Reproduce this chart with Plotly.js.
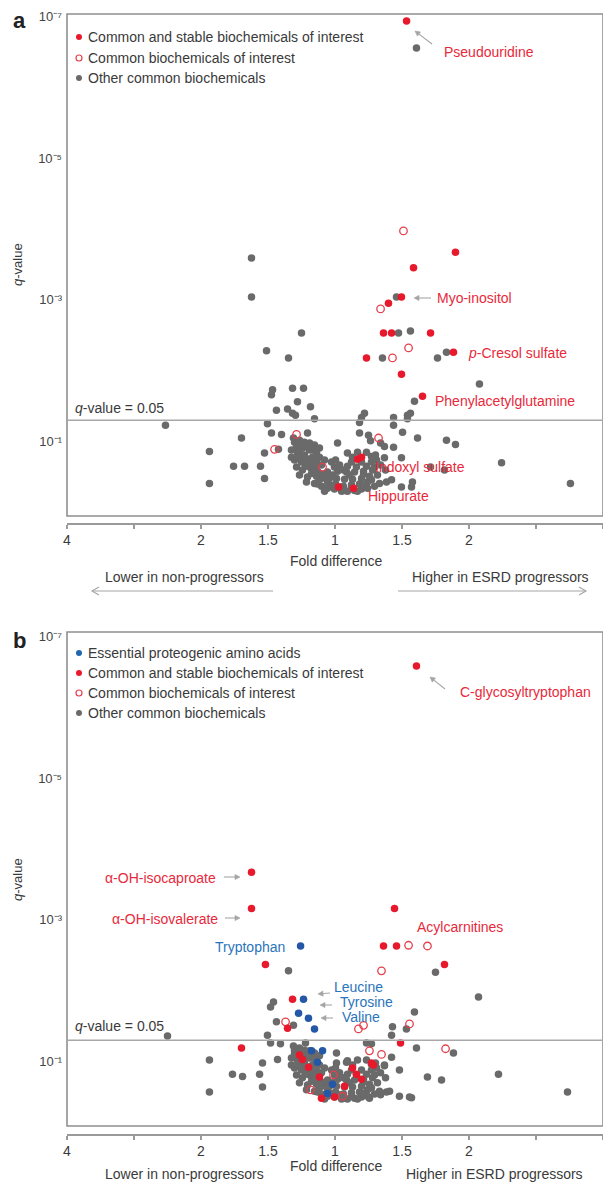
<!DOCTYPE html>
<html><head><meta charset="utf-8">
<script src="https://cdn.plot.ly/plotly-3.0.1.min.js"></script>
<style>html,body{margin:0;padding:0;background:#fff;}#chart{width:603px;height:1183px;}</style>
</head><body><div id="chart"></div>
<script>
// ---------- DATA: x = log2 fold difference, y = -log10(q-value) ----------
const xTickVals = [-2, -1, -0.5, 0, 0.5, 1, 2];
const xTickText = ['4', '2', '1.5', '1', '1.5', '2', '4'];
const xMinorTicks = [-1.5, 1.5];
const yTickVals = [1, 3, 5, 7];
const yTickText = ['10⁻¹', '10⁻³', '10⁻⁵', '10⁻⁷'];
const qThreshold = 0.05;

// Panel a
const aRedX = [0.534,0.899,0.586,0.496,0.399,0.362,0.422,0.713,0.235,0.884,0.496,0.653,0.168,0.198,0.026,0.138];
const aRedY = [6.93,3.67,3.45,3.04,2.95,2.53,2.53,2.53,2.18,2.26,1.95,1.64,0.75,0.78,0.36,0.34];
const aOpenX = [0.511,0.340,0.429,0.549,-0.287,-0.451,-0.093,0.325];
const aOpenY = [3.97,2.87,2.18,2.32,1.10,0.89,0.64,1.05];
const aGrayX = [0.608,-0.623,-0.623,0.459,-0.250,0.474,0.563,-0.511,-0.347,0.354,0.765,0.832,1.078,-0.466,-0.474,-0.317,-0.235,-0.280,-0.183,0.593,-0.437,-0.354,-0.317,-0.295,-0.153,0.198,0.220,0.437,0.437,0.541,0.563,0.541,0.183,-1.265,-0.937,-0.937,-0.698,-0.757,-0.675,-0.556,-0.526,-0.526,-0.422,-0.504,-0.474,-0.399,-0.205,0.019,0.183,0.250,0.265,0.340,0.369,0.504,0.437,0.616,0.832,0.899,1.243,1.757,0.713,0.817,0.496,0.571,0.578,0.384,0.422,0.496];
const aGrayY = [6.55,3.59,3.04,3.04,2.53,2.53,2.56,2.28,2.18,2.18,2.18,2.26,1.81,1.73,1.66,1.75,1.75,1.56,1.49,1.57,1.44,1.46,1.40,1.37,1.32,1.34,1.40,1.34,1.23,1.37,1.40,1.32,1.27,1.23,0.86,0.41,1.05,0.65,0.65,0.65,0.48,0.84,0.89,1.25,1.12,1.10,1.12,0.98,1.12,1.09,1.01,0.98,0.93,1.13,0.92,1.05,1.02,0.96,0.70,0.41,0.64,0.60,0.36,0.36,0.43,0.43,0.46,0.77];
const aClusterX = [-0.302,-0.265,-0.228,-0.190,-0.153,-0.116,-0.287,-0.243,-0.190,-0.138,-0.280,-0.228,-0.168,-0.116,-0.302,-0.250,-0.205,-0.138,-0.078,-0.287,-0.243,-0.183,-0.131,-0.056,-0.265,-0.205,-0.138,-0.071,-0.019,-0.213,-0.153,-0.101,-0.056,-0.004,0.049,0.093,0.146,0.198,0.243,0.295,-0.116,-0.056,0.004,0.063,0.123,0.183,0.243,0.011,0.071,0.131,0.198,0.257,0.019,0.086,0.146,0.213,0.280,0.034,0.093,0.160,0.235,0.295,0.093,0.131,0.235,0.272,0.310,0.340,-0.026,-0.004,-0.325,-0.325,-0.310,
  -0.265,-0.205,-0.168,-0.265,-0.220,-0.175,-0.272,-0.101,-0.153,-0.220,-0.101,-0.175,-0.041,-0.131,-0.078,-0.026,0.034,0.071,0.123,0.168,0.220,0.272,0.317,0.272,0.198,0.123,0.063,0.004,0.168,0.302,0.369,0.377,0.332,0.108,0.213];
const aClusterY = [0.99,1.02,0.99,0.98,0.95,0.91,0.92,0.91,0.88,0.85,0.84,0.81,0.78,0.78,0.74,0.71,0.70,0.70,0.74,0.64,0.60,0.63,0.58,0.57,0.53,0.50,0.51,0.48,0.53,0.43,0.41,0.37,0.34,0.33,0.30,0.30,0.31,0.33,0.34,0.37,0.46,0.43,0.40,0.37,0.39,0.40,0.43,0.48,0.47,0.47,0.48,0.51,0.58,0.57,0.57,0.58,0.60,0.67,0.65,0.64,0.65,0.64,0.84,0.78,0.85,0.79,0.74,0.67,0.71,0.64,0.88,0.78,1.05,
  0.95,0.92,0.88,0.85,0.77,0.72,0.78,0.67,0.64,0.65,0.54,0.55,0.48,0.40,0.30,0.38,0.36,0.31,0.34,0.30,0.38,0.46,0.53,0.71,0.71,0.71,0.60,0.74,0.85,0.81,0.77,0.60,0.41,0.53,0.54];

// Panel b
const bBlueX = [-0.257,-0.235,-0.272,-0.198,-0.153,-0.175,-0.093,-0.131,-0.019,-0.056];
const bBlueY = [2.63,1.88,1.68,1.61,1.46,1.15,1.15,0.99,0.68,0.55];
const bRedX = [0.608,-0.623,-0.623,0.444,0.362,0.459,-0.519,0.817,-0.317,-0.354,-0.698,0.489,-0.265,-0.243,-0.198,0.272,0.287,-0.116,0.131,0.160,0.198,0.071,-0.101,-0.004];
const bRedY = [6.58,3.67,3.16,3.16,2.63,2.63,2.37,2.37,1.88,1.47,1.19,1.26,1.09,1.03,0.92,0.98,0.95,0.78,0.91,0.82,0.75,0.65,0.48,0.50];
const bOpenX = [0.549,0.690,0.347,-0.369,0.175,0.213,0.556,0.257,0.347,0.825,-0.011,-0.183,0.056];
const bOpenY = [2.64,2.63,2.28,1.56,1.46,1.51,1.53,1.15,1.10,1.18,0.81,0.60,0.51];
const bGrayX = [-0.347,0.750,1.071,-0.459,-0.481,-0.437,-0.310,0.593,0.429,0.422,0.533,-1.250,-0.504,-0.481,-0.407,-0.220,0.011,0.235,0.272,0.608,-0.302,-0.541,-0.429,0.011,0.086,0.422,0.690,-0.765,-0.690,-0.563,-0.541,0.481,0.556,0.257,-0.937,-0.937,0.884,0.369,0.481,0.795,1.220,1.735,0.571,0.340,0.384,0.407];
const bGrayY = [2.28,2.26,1.91,1.84,1.77,1.56,1.51,1.70,1.49,1.37,1.46,1.36,1.37,1.26,1.25,1.26,1.12,1.26,1.25,1.19,1.12,0.98,1.03,0.98,0.99,1.06,0.78,0.82,0.79,0.82,0.64,0.51,0.50,0.48,1.02,0.57,1.12,0.95,0.88,0.74,0.82,0.57,0.49,0.53,0.57,0.58];
const bClusterX = [-0.302,-0.265,-0.228,-0.190,-0.153,-0.116,-0.287,-0.243,-0.190,-0.138,-0.280,-0.228,-0.168,-0.116,-0.302,-0.250,-0.205,-0.138,-0.078,-0.287,-0.243,-0.183,-0.131,-0.056,-0.265,-0.205,-0.138,-0.071,-0.019,-0.213,-0.153,-0.101,-0.056,-0.004,0.049,0.093,0.146,0.198,0.243,0.295,-0.116,-0.056,0.004,0.063,0.123,0.183,0.243,0.011,0.071,0.131,0.198,0.257,0.019,0.086,0.146,0.213,0.280,0.034,0.093,0.160,0.235,0.295,0.093,0.131,0.235,0.272,0.310,0.340,-0.026,-0.004,-0.325,-0.325,-0.310,
  -0.265,-0.205,-0.168,-0.265,-0.220,-0.175,-0.272,-0.101,-0.153,-0.220,-0.101,-0.175,-0.041,-0.131,-0.078,-0.026,0.034,0.071,0.123,0.168,0.220,0.272,0.317,0.272,0.198,0.123,0.063,0.004,0.168,0.302,0.369,0.377,0.332,0.108,0.213];
const bClusterY = [1.16,1.19,1.16,1.15,1.12,1.08,1.09,1.08,1.05,1.02,1.01,0.98,0.95,0.95,0.91,0.88,0.87,0.87,0.91,0.81,0.77,0.80,0.75,0.74,0.70,0.67,0.68,0.65,0.70,0.60,0.58,0.54,0.51,0.50,0.47,0.47,0.48,0.50,0.51,0.54,0.63,0.60,0.57,0.54,0.56,0.57,0.60,0.65,0.64,0.64,0.65,0.68,0.75,0.74,0.74,0.75,0.77,0.84,0.82,0.81,0.82,0.81,1.01,0.95,1.02,0.96,0.91,0.84,0.88,0.81,1.05,0.95,1.22,
  1.12,1.09,1.05,1.02,0.94,0.89,0.95,0.84,0.81,0.82,0.71,0.72,0.65,0.57,0.47,0.55,0.53,0.48,0.51,0.47,0.55,0.63,0.70,0.88,0.88,0.88,0.77,0.91,1.02,0.98,0.94,0.77,0.58,0.70,0.71];

const legendA = ['Common and stable biochemicals of interest', 'Common biochemicals of interest', 'Other common biochemicals'];
const legendB = ['Essential proteogenic amino acids', 'Common and stable biochemicals of interest', 'Common biochemicals of interest', 'Other common biochemicals'];

// ---------- STYLE ----------
const W = 603, H = 1183, ML = 67;
const FONT = 'Liberation Sans, Arial, Helvetica, sans-serif';
const RED = '#e8192c', RED_T = '#e8293b', BLUE = '#2457a8', BLUE_T = '#2b74bb', GRAY = '#6a6a6a', DARK = '#3a3a3a', LINE = '#8f8f8f', ARROW = '#a5a5a5';
const PX = p => (p - ML) / (W - ML);
const PY = p => 1 - p / H;

const mGray = {size: 7.5, color: GRAY};
const mRed = {size: 7.5, color: RED};
const mOpen = {size: 7.5, symbol: 'circle-open', color: '#e5404c', line: {width: 1.3}};
const mBlue = {size: 7.5, color: BLUE};

function pts(x, y, xa, ya, marker) {
  return {type: 'scatter', mode: 'markers', x: x, y: y, xaxis: xa, yaxis: ya, marker: marker, hoverinfo: 'skip', showlegend: false, cliponaxis: false};
}

const data = [
  pts(aGrayX.concat(aClusterX), aGrayY.concat(aClusterY), 'x', 'y', mGray),
  pts(aOpenX, aOpenY, 'x', 'y', mOpen),
  pts(aRedX, aRedY, 'x', 'y', mRed),
  pts(bGrayX.concat(bClusterX), bGrayY.concat(bClusterY), 'x2', 'y2', mGray),
  pts(bOpenX, bOpenY, 'x2', 'y2', mOpen),
  pts(bRedX, bRedY, 'x2', 'y2', mRed),
  pts(bBlueX, bBlueY, 'x2', 'y2', mBlue)
];

function xAxis(pos) {
  return {domain: [0, 1], range: [-2, 2], anchor: 'free', position: pos, tickmode: 'array', tickvals: xTickVals, ticktext: xTickText,
    ticks: 'outside', ticklen: 4, tickwidth: 1.2, tickcolor: '#9a9a9a', showline: true, linecolor: '#9a9a9a', linewidth: 1.5,
    minor: {tickmode: 'array', tickvals: xMinorTicks, ticks: 'outside', ticklen: 4, tickwidth: 1.2, tickcolor: '#9a9a9a', showgrid: false},
    showgrid: false, zeroline: false, tickfont: {family: FONT, size: 14, color: DARK}, fixedrange: true};
}
function yAxis(dom, rng, anchor) {
  return {domain: dom, range: rng, anchor: anchor, tickmode: 'array', tickvals: yTickVals, ticktext: yTickText, ticks: '', ticklabelstandoff: 4,
    showline: false, showgrid: false, zeroline: false, tickfont: {family: FONT, size: 13, color: '#444'}, fixedrange: true};
}

function txt(x, y, text, color, opt) {
  return Object.assign({xref: 'paper', yref: 'paper', x: PX(x), y: PY(y), text: text, showarrow: false, xanchor: 'left', yanchor: 'middle',
    font: {family: FONT, size: 14, color: color}}, opt || {});
}
// arrow drawn as a path shape: shaft from tail to head plus a head (filled triangle or open chevron)
function arrow(hx, hy, tx, ty, open) {
  const dx = tx - hx, dy = ty - hy, len = Math.hypot(dx, dy);
  const ux = dx / len, uy = dy / len, nx = -uy, ny = ux;
  const s = open ? 7 : 5, w = open ? 4 : 2.6;
  const p = (x, y) => PX(x).toFixed(5) + ',' + PY(y).toFixed(5);
  const b1 = [hx + ux * s + nx * w, hy + uy * s + ny * w], b2 = [hx + ux * s - nx * w, hy + uy * s - ny * w];
  const shaft = {type: 'path', xref: 'paper', yref: 'paper', path: 'M' + p(tx, ty) + 'L' + p(hx + ux * (open ? 0 : s * 0.6), hy + uy * (open ? 0 : s * 0.6)),
    line: {color: ARROW, width: 1.1}};
  const head = open
    ? {type: 'path', xref: 'paper', yref: 'paper', path: 'M' + p(b1[0], b1[1]) + 'L' + p(hx, hy) + 'L' + p(b2[0], b2[1]), line: {color: ARROW, width: 1.1}}
    : {type: 'path', xref: 'paper', yref: 'paper', path: 'M' + p(b1[0], b1[1]) + 'L' + p(hx, hy) + 'L' + p(b2[0], b2[1]) + 'Z', fillcolor: ARROW, line: {color: ARROW, width: 0.6}};
  return [shaft, head];
}
function dot(x, y, kind) {
  const s = {type: 'circle', xref: 'paper', yref: 'paper', xsizemode: 'pixel', ysizemode: 'pixel', xanchor: PX(x), yanchor: PY(y),
    x0: -3, x1: 3, y0: -3, y1: 3};
  if (kind === 'open') { s.line = {color: '#e5404c', width: 1.2}; s.fillcolor = 'rgba(0,0,0,0)'; }
  else { s.line = {width: 0}; s.fillcolor = kind; }
  return s;
}

const qLine = -Math.log10(qThreshold);

const shapes = [
  {type: 'rect', xref: 'x domain', yref: 'y domain', x0: 0, x1: 1, y0: 0, y1: 1, line: {color: LINE, width: 1.6}},
  {type: 'rect', xref: 'x2 domain', yref: 'y2 domain', x0: 0, x1: 1, y0: 0, y1: 1, line: {color: LINE, width: 1.6}},
  {type: 'line', xref: 'x domain', yref: 'y', x0: 0, x1: 1, y0: qLine, y1: qLine, line: {color: '#a8a8a8', width: 1.5}},
  {type: 'line', xref: 'x2 domain', yref: 'y2', x0: 0, x1: 1, y0: qLine, y1: qLine, line: {color: '#a8a8a8', width: 1.5}},
  dot(79, 37, RED), dot(79, 58, 'open'), dot(79, 78, GRAY),
  dot(79, 653, '#2067b0'), dot(79, 673, RED), dot(79, 693, 'open'), dot(79, 713, GRAY)
].concat(
  arrow(415, 31, 432, 44),          // Pseudouridine
  arrow(414, 298, 431, 298),        // Myo-inositol
  arrow(92, 591, 273, 591, true),   // lower in non-progressors
  arrow(586, 591, 398, 591, true),  // higher in ESRD progressors
  arrow(430, 677, 445, 689),        // C-glycosyltryptophan
  arrow(240, 877, 224, 877),        // isocaproate
  arrow(240, 918, 225, 918),        // isovalerate
  arrow(318, 994, 330, 993),        // Leucine
  arrow(320, 1005, 332, 1005),      // Tyrosine
  arrow(321, 1018, 333, 1018)       // Valine
);

const annotations = [
  txt(11, 21, '<b>a</b>', '#222', {font: {family: FONT, size: 22, color: '#222'}}),
  txt(11, 640, '<b>b</b>', '#222', {font: {family: FONT, size: 22, color: '#222'}}),
  txt(18, 265, '<i>q</i>-value', DARK, {textangle: -90, xanchor: 'center', font: {family: FONT, size: 13, color: DARK}}),
  txt(18, 880, '<i>q</i>-value', DARK, {textangle: -90, xanchor: 'center', font: {family: FONT, size: 13, color: DARK}}),
  txt(86, 37, legendA[0], DARK), txt(86, 58, legendA[1], DARK), txt(86, 78, legendA[2], DARK),
  txt(86, 653, legendB[0], DARK), txt(86, 673, legendB[1], DARK), txt(86, 693, legendB[2], DARK), txt(86, 713, legendB[3], DARK),
  txt(73, 408, '<i>q</i>-value = 0.05', DARK),
  txt(73, 1026, '<i>q</i>-value = 0.05', DARK),
  txt(442, 52, 'Pseudouridine', RED_T),
  txt(435, 298, 'Myo-inositol', RED_T),
  txt(466, 353, '<i>p</i>-Cresol sulfate', RED_T),
  txt(433, 401, 'Phenylacetylglutamine', RED_T),
  txt(373, 467, 'Indoxyl sulfate', RED_T),
  txt(366, 496, 'Hippurate', RED_T),
  txt(336, 561, 'Fold difference', DARK, {xanchor: 'center'}),
  txt(184, 577, 'Lower in non-progressors', DARK, {xanchor: 'center'}),
  txt(500, 577, 'Higher in ESRD progressors', DARK, {xanchor: 'center'}),
  txt(458, 692, 'C-glycosyltryptophan', RED_T),
  txt(218, 878, 'α-OH-isocaproate', RED_T, {xanchor: 'right'}),
  txt(220, 919, 'α-OH-isovalerate', RED_T, {xanchor: 'right'}),
  txt(415, 927, 'Acylcarnitines', RED_T),
  txt(287, 947, 'Tryptophan', BLUE_T, {xanchor: 'right'}),
  txt(332, 987, 'Leucine', BLUE_T),
  txt(338, 1002, 'Tyrosine', BLUE_T),
  txt(340, 1017, 'Valine', BLUE_T),
  txt(336, 1166, 'Fold difference', DARK, {xanchor: 'center'}),
  txt(184, 1174, 'Lower in non-progressors', DARK, {xanchor: 'center'}),
  txt(494, 1174, 'Higher in ESRD progressors', DARK, {xanchor: 'center'})
];

const layout = {
  width: W, height: H, margin: {l: ML, r: 0, t: 0, b: 0, pad: 0},
  paper_bgcolor: '#fff', plot_bgcolor: '#fff', showlegend: false,
  font: {family: FONT, color: DARK},
  xaxis: xAxis(1 - 523 / H),
  yaxis: yAxis([1 - 516 / H, 1 - 14 / H], [-0.05, 7.03], 'x'),
  xaxis2: xAxis(1 - 1134 / H),
  yaxis2: yAxis([1 - 1126 / H, 1 - 632 / H], [0.09, 7.06], 'x2'),
  shapes: shapes,
  annotations: annotations
};

Plotly.newPlot('chart', data, layout, {staticPlot: true, displayModeBar: false});
</script></body></html>
